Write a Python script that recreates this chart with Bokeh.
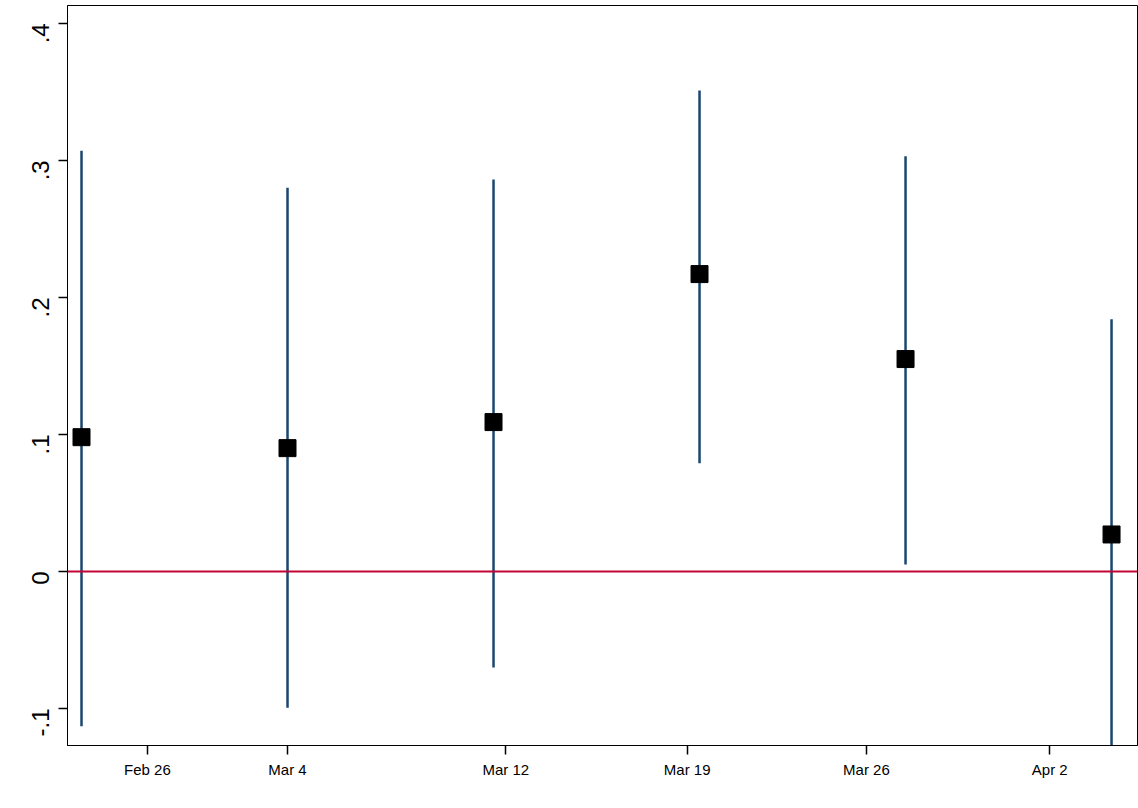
from bokeh.embed import file_html
from bokeh.models import FixedTicker, Span, Range1d
from bokeh.plotting import figure
from bokeh.resources import INLINE

# estimates by period with 95% CI
period = [1, 2, 3, 4, 5, 6]
estimate = [0.098, 0.090, 0.109, 0.217, 0.155, 0.027]
ci_low = [-0.113, -0.0995, -0.070, 0.079, 0.005, -0.130]
ci_high = [0.307, 0.280, 0.286, 0.351, 0.303, 0.184]

tick_pos = [1.32, 2.0, 3.06, 3.94, 4.81, 5.70]
tick_labels = ["Feb 26", "Mar 4", "Mar 12", "Mar 19", "Mar 26", "Apr 2"]
y_ticks = [-0.1, 0, 0.1, 0.2, 0.3, 0.4]
y_labels = ["-.1", "0", ".1", ".2", ".3", ".4"]

p = figure(width=1138, height=800, output_backend="svg", toolbar_location=None,
           x_range=Range1d(0.932, 6.126), y_range=Range1d(-0.127, 0.413),
           min_border_left=67, min_border_right=1, min_border_top=5,
           min_border_bottom=55)
p.grid.visible = False
p.outline_line_color = "black"
p.outline_line_width = 1

p.segment(period, ci_low, period, ci_high, line_color="#1a476f", line_width=2.5)
p.add_layout(Span(location=0, dimension="width", line_color="#c10534", line_width=2))
p.scatter(period, estimate, marker="square", size=17, color="black")

p.xaxis.ticker = FixedTicker(ticks=tick_pos)
p.xaxis.major_label_overrides = dict(zip(tick_pos, tick_labels))
p.yaxis.ticker = FixedTicker(ticks=y_ticks)
p.yaxis.major_label_overrides = dict(zip(y_ticks, y_labels))
p.yaxis.major_label_orientation = 1.5708
p.axis.minor_tick_line_color = None
p.axis.major_tick_out = 9
p.axis.major_tick_in = 0
p.axis.major_tick_line_width = 1.5
p.axis.axis_line_color = "black"
p.axis.major_tick_line_color = "black"
p.xaxis.major_label_standoff = 6
p.yaxis.major_label_standoff = 18
p.axis.major_label_text_font = "Liberation Sans"
p.axis.major_label_text_color = "black"
p.xaxis.major_label_text_font_size = "15px"
p.yaxis.major_label_text_font_size = "24px"

open("out.html", "w").write(file_html(p, INLINE))
